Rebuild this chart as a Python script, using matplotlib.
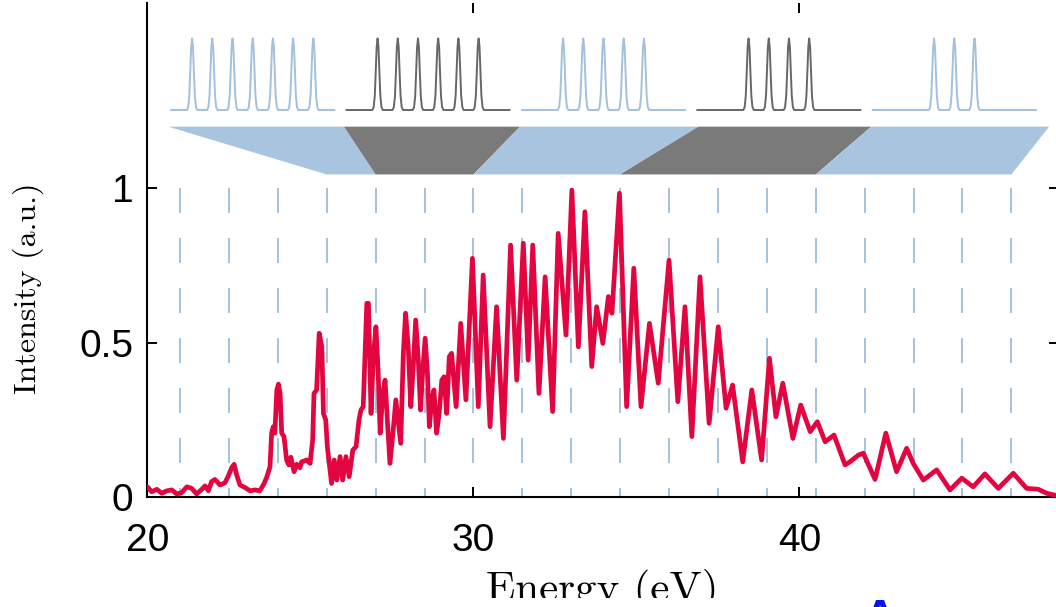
import matplotlib
matplotlib.use("Agg")
import matplotlib.pyplot as plt
from matplotlib.patches import Rectangle

plt.rcParams["lines.scale_dashes"] = False

# Measured photoelectron spectrum (energy in eV, normalised intensity)
energy = [
    20.00, 20.13, 20.29, 20.44, 20.59, 20.75, 20.90, 21.05, 21.21, 21.36,
    21.51, 21.67, 21.77, 21.87, 21.97, 22.07, 22.23, 22.38, 22.48, 22.59,
    22.66, 22.74, 22.84, 22.99, 23.15, 23.30, 23.45, 23.58, 23.66, 23.76,
    23.81, 23.86, 23.91, 23.97, 24.02, 24.07, 24.12, 24.19, 24.27, 24.34,
    24.40, 24.50, 24.58, 24.68, 24.73, 24.89, 24.99, 25.07, 25.11, 25.19,
    25.27, 25.35, 25.40, 25.47, 25.52, 25.58, 25.65, 25.73, 25.81, 25.91,
    25.99, 26.09, 26.19, 26.30, 26.40, 26.49, 26.55, 26.62, 26.73, 26.78,
    26.86, 26.93, 27.01, 27.08, 27.14, 27.22, 27.29, 27.36, 27.44, 27.54,
    27.62, 27.70, 27.77, 27.85, 27.92, 28.00, 28.08, 28.16, 28.23, 28.31,
    28.38, 28.44, 28.52, 28.59, 28.65, 28.72, 28.79, 28.87, 28.95, 29.03,
    29.10, 29.18, 29.26, 29.33, 29.47, 29.61, 29.77, 29.97, 30.15, 30.30,
    30.51, 30.71, 30.92, 31.14, 31.33, 31.53, 31.68, 31.82, 32.01, 32.20,
    32.43, 32.60, 32.84, 33.02, 33.22, 33.42, 33.63, 33.78, 33.97, 34.14,
    34.25, 34.48, 34.70, 34.92, 35.14, 35.40, 35.67, 36.00, 36.27, 36.49,
    36.70, 36.95, 37.23, 37.51, 37.75, 37.95, 38.26, 38.54, 38.84, 39.08,
    39.28, 39.49, 39.80, 40.04, 40.33, 40.55, 40.79, 41.06, 41.40, 41.55,
    41.81, 41.96, 42.32, 42.65, 42.98, 43.29, 43.49, 43.80, 44.21, 44.62,
    44.98, 45.33, 45.69, 46.10, 46.56, 46.97, 47.33, 47.59, 47.95,
]
intensity = [
    0.032, 0.016, 0.024, 0.011, 0.019, 0.022, 0.009, 0.013, 0.032, 0.027,
    0.009, 0.024, 0.035, 0.019, 0.049, 0.056, 0.038, 0.045, 0.067, 0.095,
    0.105, 0.070, 0.038, 0.030, 0.019, 0.022, 0.019, 0.043, 0.063, 0.097,
    0.206, 0.227, 0.206, 0.346, 0.365, 0.335, 0.206, 0.195, 0.119, 0.103,
    0.128, 0.081, 0.105, 0.094, 0.113, 0.119, 0.108, 0.184, 0.335, 0.346,
    0.530, 0.486, 0.270, 0.249, 0.162, 0.108, 0.043, 0.119, 0.054, 0.130,
    0.054, 0.130, 0.065, 0.151, 0.162, 0.249, 0.281, 0.292, 0.627, 0.627,
    0.270, 0.454, 0.551, 0.400, 0.206, 0.335, 0.378, 0.249, 0.108, 0.216,
    0.314, 0.238, 0.173, 0.465, 0.595, 0.486, 0.292, 0.433, 0.573, 0.443,
    0.281, 0.400, 0.514, 0.400, 0.227, 0.314, 0.346, 0.206, 0.270, 0.378,
    0.389, 0.270, 0.454, 0.465, 0.292, 0.562, 0.314, 0.773, 0.292, 0.719,
    0.227, 0.616, 0.189, 0.816, 0.378, 0.822, 0.443, 0.816, 0.335, 0.713,
    0.276, 0.854, 0.524, 0.994, 0.486, 0.924, 0.422, 0.616, 0.497, 0.649,
    0.595, 0.984, 0.292, 0.741, 0.292, 0.562, 0.368, 0.767, 0.308, 0.616,
    0.195, 0.713, 0.238, 0.551, 0.287, 0.362, 0.113, 0.346, 0.119, 0.449,
    0.259, 0.368, 0.189, 0.297, 0.211, 0.243, 0.178, 0.200, 0.103, 0.113,
    0.135, 0.141, 0.056, 0.206, 0.081, 0.157, 0.108, 0.054, 0.087, 0.022,
    0.060, 0.032, 0.074, 0.027, 0.076, 0.027, 0.024, 0.011, 0.002,
]

# Harmonic energies marked by dashed guides
harmonics = [21.0, 22.5, 24.0, 25.5, 27.0, 28.5, 30.0, 31.5, 33.0,
             34.5, 36.0, 37.5, 39.0, 40.5, 42.0, 43.5, 45.0, 46.5]

# Energy windows: upper edges (schematic) and lower edges (spectrum)
band_top = [20.64, 26.03, 31.43, 36.9, 42.2, 47.66]
band_bottom = [25.5, 27.0, 30.0, 34.5, 40.5, 46.5]
band_kind = ["blue", "gray", "blue", "gray", "blue"]

# Pulse trains above each window
train_center = [23.23, 28.61, 33.99, 39.37, 44.75]
train_pulses = [7, 6, 5, 4, 3]
pulse_spacing = 0.62
train_halfwidth = 2.5
# single pulse profile: offset (eV) -> relative height
pulse_offset = [-0.16, -0.12, -0.085, -0.055, -0.028, 0.0, 0.028, 0.055, 0.085, 0.12, 0.16]
pulse_height = [0.0, 0.04, 0.2, 0.55, 0.88, 1.0, 0.88, 0.55, 0.2, 0.04, 0.0]

x_ticks = [20, 30, 40]
y_ticks = [0, 0.5, 1]
y_ticklabels = ["0", "0.5", "1"]

RED = "#e3053f"
DASH = "#9dbcd9"
BLUE_FILL = "#a9c4df"
GRAY_FILL = "#7a7a7a"
BLUE_LINE = "#a4c0dc"
GRAY_LINE = "#676767"

W, H = 1056, 607
fig = plt.figure(figsize=(W / 100, H / 100), dpi=100)
ax = fig.add_axes([147.4 / W, 1 - 496.7 / H, (1058.6 - 147.4) / W, (496.7 - 3.3) / H])
ax.set_xlim(20, 47.95)
ax.set_ylim(0, 1.6)

# dashed harmonic guides
for e in harmonics:
    ax.plot([e, e], [1.0, 0.0], color=DASH, lw=1.3, dashes=(18, 18), zorder=1)

# spectrum
ax.plot(energy, intensity, color=RED, lw=3.4, solid_joinstyle="round",
        solid_capstyle="round", zorder=3)

# energy window bands
y_top, y_bot = 1.2, 1.045
for i, kind in enumerate(band_kind):
    col = BLUE_FILL if kind == "blue" else GRAY_FILL
    ax.fill([band_top[i], band_top[i + 1], band_bottom[i + 1], band_bottom[i]],
            [y_top, y_top, y_bot, y_bot], color=col, lw=0, zorder=2)

# pulse trains
base, amp = 1.254, 0.232
for c, n, kind in zip(train_center, train_pulses, band_kind):
    col = BLUE_LINE if kind == "blue" else GRAY_LINE
    xs, ys = [c - train_halfwidth], [base]
    first = c - pulse_spacing * (n - 1) / 2
    for k in range(n):
        p = first + k * pulse_spacing
        for off, h in zip(pulse_offset, pulse_height):
            xs.append(p + off)
            ys.append(base + amp * h)
    xs.append(c + train_halfwidth)
    ys.append(base)
    ax.plot(xs, ys, color=col, lw=1.4, solid_joinstyle="round", zorder=2)

# axes styling
ax.spines["top"].set_visible(False)
for s in ("left", "bottom", "right"):
    ax.spines[s].set_linewidth(1.5)
ax.set_xticks(x_ticks)
ax.set_xticklabels([str(t) for t in x_ticks])
ax.set_yticks(y_ticks)
ax.set_yticklabels(y_ticklabels)
ax.tick_params(direction="in", length=7.5, width=1.4, top=True, right=True,
               labelsize=28)
ax.tick_params(axis="x", pad=19)
ax.tick_params(axis="y", pad=10)
for lab in ax.get_xticklabels() + ax.get_yticklabels():
    lab.set_fontfamily("Liberation Sans")

fig.text(28 / W, 1 - 288 / H, "Intensity (a.u.)", rotation=90, ha="center",
         va="center", fontfamily="cmr10", fontsize=23)
fig.text(601.8 / W, 1 - 601 / H, "Energy (eV)", ha="center", va="baseline",
         fontfamily="cmr10", fontsize=31)

# lower strip of the page
fig.patches.append(Rectangle((0, 0), 1, 9.5 / H, transform=fig.transFigure,
                             facecolor="white", edgecolor="none", zorder=5))
fig.text(880 / W, 1 - 598.5 / H, "A", ha="center", va="top", color="#0a14f0",
         fontsize=34, fontweight="bold", fontfamily="Liberation Sans", zorder=6)

fig.savefig("out.png", dpi=100)
